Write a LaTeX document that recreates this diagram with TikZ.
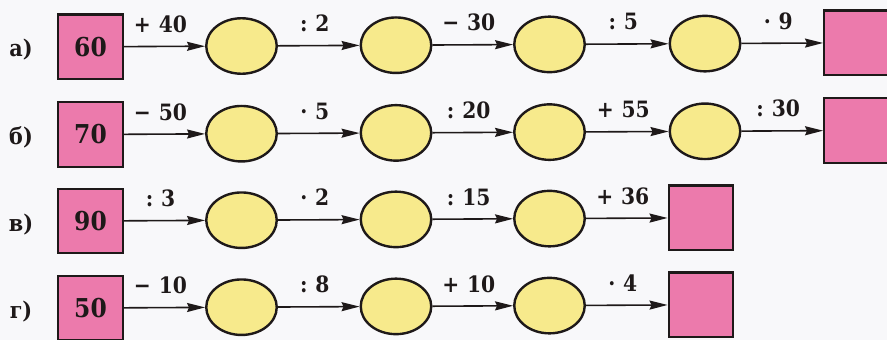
\documentclass[tikz,border=0pt]{standalone}
\usepackage{fontspec}
\setmainfont{DejaVu Serif Condensed}
\usetikzlibrary{arrows.meta,shapes.geometric}
\definecolor{pinkfill}{RGB}{236,122,172}
\definecolor{yellowfill}{RGB}{247,234,140}
\definecolor{inkc}{RGB}{30,25,25}
\definecolor{paper}{RGB}{248,248,250}
\newcommand{\opsp}{\hspace{0.35em}}
\begin{document}
\begin{tikzpicture}[x=1pt,y=-1pt,
  sq/.style={draw=inkc,line width=2.4pt,fill=pinkfill,minimum width=64.5pt,minimum height=64.5pt,inner sep=0pt,
    font=\fontsize{26}{28}\selectfont\bfseries,text=inkc},
  ov/.style={ellipse,draw=inkc,line width=2.4pt,fill=yellowfill,minimum width=70.5pt,minimum height=55.5pt,inner sep=0pt},
  op/.style={-{Stealth[length=18pt,width=9pt,inset=2pt]},line width=1.6pt,draw=inkc},
  lab/.style={font=\fontsize{22.5}{25}\selectfont\bfseries,text=inkc,anchor=base,inner sep=0pt,yshift=14pt,xshift=-4pt},
  rowlab/.style={font=\fontsize{23}{25}\selectfont\bfseries,text=inkc,anchor=base,inner sep=0pt}
]
\useasboundingbox (0,0) rectangle (887,340);
\clip (0,0) rectangle (887,340);
\fill[paper] (0,0) rectangle (887,340);

% row a
\node[rowlab] (la) at (21,56.8) {а)};
\node[sq] (a0) at (90.5,46.8) {60};
\node[ov] (a1) at (241.5,46.0) {};
\node[ov] (a2) at (396,45.2) {};
\node[ov] (a3) at (549.5,44.4) {};
\node[ov] (a4) at (705,43.6) {};
\node[sq] (a5) at (856.5,42.8) {};
\draw[op] (a0) -- node[lab] {+\opsp40} (a1);
\draw[op] (a1) -- node[lab] {:\opsp2} (a2);
\draw[op] (a2) -- node[lab] {−\opsp30} (a3);
\draw[op] (a3) -- node[lab] {:\opsp5} (a4);
\draw[op] (a4) -- node[lab] {·\opsp9} (a5);

% row b
\node[rowlab] (lb) at (21,144.5) {б)};
\node[sq] (b0) at (90.5,134.5) {70};
\node[ov] (b1) at (241.5,133.7) {};
\node[ov] (b2) at (396,132.9) {};
\node[ov] (b3) at (549.5,132.1) {};
\node[ov] (b4) at (705,131.3) {};
\node[sq] (b5) at (856.5,130.5) {};
\draw[op] (b0) -- node[lab] {−\opsp50} (b1);
\draw[op] (b1) -- node[lab] {·\opsp5} (b2);
\draw[op] (b2) -- node[lab] {:\opsp20} (b3);
\draw[op] (b3) -- node[lab] {+\opsp55} (b4);
\draw[op] (b4) -- node[lab] {:\opsp30} (b5);

% row c
\node[rowlab] (lc) at (21,231) {в)};
\node[sq] (c0) at (90.5,221) {90};
\node[ov] (c1) at (241.5,220.2) {};
\node[ov] (c2) at (396,219.4) {};
\node[ov] (c3) at (549.5,218.6) {};
\node[sq] (c4) at (701,217.8) {};
\draw[op] (c0) -- node[lab] {:\opsp3} (c1);
\draw[op] (c1) -- node[lab] {·\opsp2} (c2);
\draw[op] (c2) -- node[lab] {:\opsp15} (c3);
\draw[op] (c3) -- node[lab] {+\opsp36} (c4);

% row d
\node[rowlab] (ld) at (21,318) {г)};
\node[sq] (d0) at (90.5,308) {50};
\node[ov] (d1) at (241.5,307.2) {};
\node[ov] (d2) at (396,306.4) {};
\node[ov] (d3) at (549.5,305.6) {};
\node[sq] (d4) at (701,304.8) {};
\draw[op] (d0) -- node[lab] {−\opsp10} (d1);
\draw[op] (d1) -- node[lab] {:\opsp8} (d2);
\draw[op] (d2) -- node[lab] {+\opsp10} (d3);
\draw[op] (d3) -- node[lab] {·\opsp4} (d4);
\end{tikzpicture}
\end{document}
